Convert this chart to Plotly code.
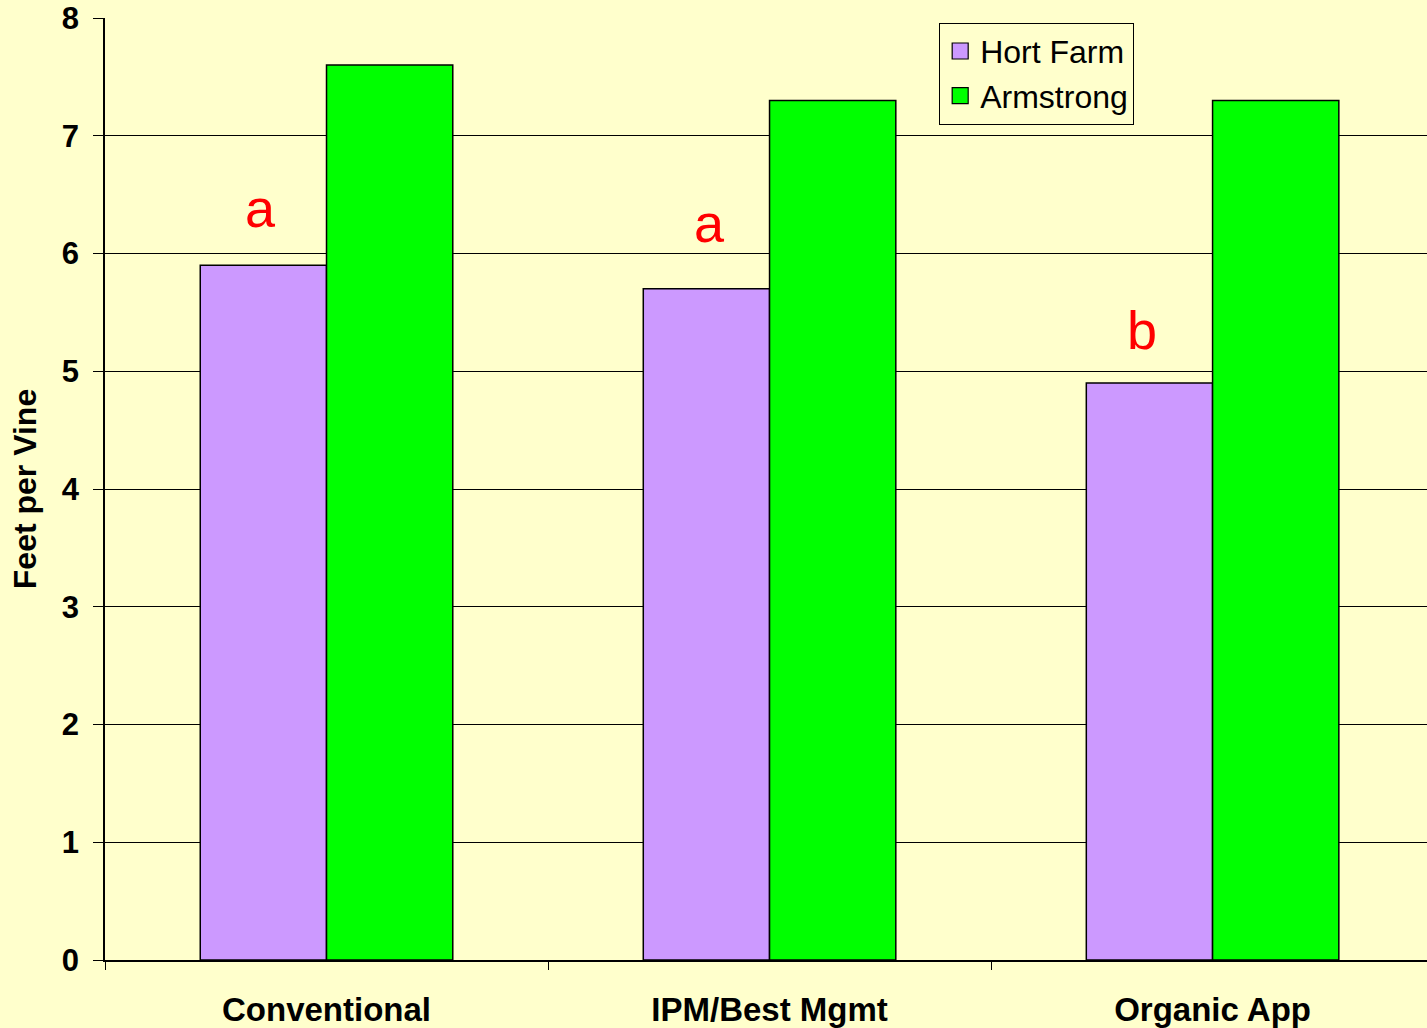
import plotly.graph_objects as go

categories = ["Conventional", "IPM/Best Mgmt", "Organic App"]
hort_farm = [5.9, 5.7, 4.9]
armstrong = [7.6, 7.3, 7.3]
letters = ["a", "a", "b"]
letter_y = [6.39, 6.26, 5.35]

FONT = "Arial, Liberation Sans, sans-serif"
BG = "#FFFFCC"
HORT_COLOR = "#CC99FF"
ARM_COLOR = "#00FF00"
letter_xshift = [-66, -60, -71]

fig = go.Figure()
fig.add_trace(go.Bar(name="Hort Farm", x=categories, y=hort_farm, showlegend=False,
                     marker=dict(color=HORT_COLOR, line=dict(color="#000000", width=1.5))))
fig.add_trace(go.Bar(name="Armstrong", x=categories, y=armstrong, showlegend=False,
                     marker=dict(color=ARM_COLOR, line=dict(color="#000000", width=1.5))))
# legend entries with larger square swatches
for name, col in [("Hort Farm", HORT_COLOR), ("Armstrong", ARM_COLOR)]:
    fig.add_trace(go.Scatter(name=name, x=[None], y=[None], mode="markers",
                             marker=dict(symbol="square", size=18, color=col,
                                         line=dict(color="#000000", width=1.2)),
                             showlegend=True))

for c, l, yy, xs in zip(categories, letters, letter_y, letter_xshift):
    fig.add_annotation(x=c, y=yy, xref="x", yref="y", text=l, showarrow=False,
                       xshift=xs, font=dict(family=FONT, size=54, color="#FF0000"))

fig.update_layout(
    width=1427, height=1028,
    margin=dict(l=105, r=0, t=18, b=68),
    paper_bgcolor=BG, plot_bgcolor=BG,
    barmode="group", bargap=0.43, bargroupgap=0,
    font=dict(family=FONT, color="#000000"),
    showlegend=True,
    legend=dict(x=0.631, y=0.995, xanchor="left", yanchor="top",
                bgcolor=BG, bordercolor="#000000", borderwidth=1,
                font=dict(family=FONT, size=32, color="#000000"),
                tracegroupgap=0, itemsizing="trace", itemwidth=30),
)
fig.update_xaxes(
    range=[-0.5, 2.484],
    showline=True, linecolor="#000000", linewidth=1.5,
    ticks="outside", tickson="boundaries", ticklen=8, tickcolor="#000000",
    tickfont=dict(family=FONT, size=33, color="#000000", weight="bold"),
    ticklabelstandoff=20, showgrid=False, zeroline=False,
)
fig.update_yaxes(
    range=[0, 8], dtick=1, showline=True, linecolor="#000000", linewidth=1.5,
    ticks="outside", ticklen=10, tickcolor="#000000",
    showgrid=True, gridcolor="#000000", gridwidth=1, zeroline=False,
    tickfont=dict(family=FONT, size=31, color="#000000", weight="bold"),
    ticklabelstandoff=8,
    title=dict(text="Feet per Vine", standoff=16,
               font=dict(family=FONT, size=32, color="#000000", weight="bold")),
)

fig.write_html("out.html", config={"displayModeBar": False},
               post_script="document.body.style.margin='0px';document.body.style.overflow='hidden';")
